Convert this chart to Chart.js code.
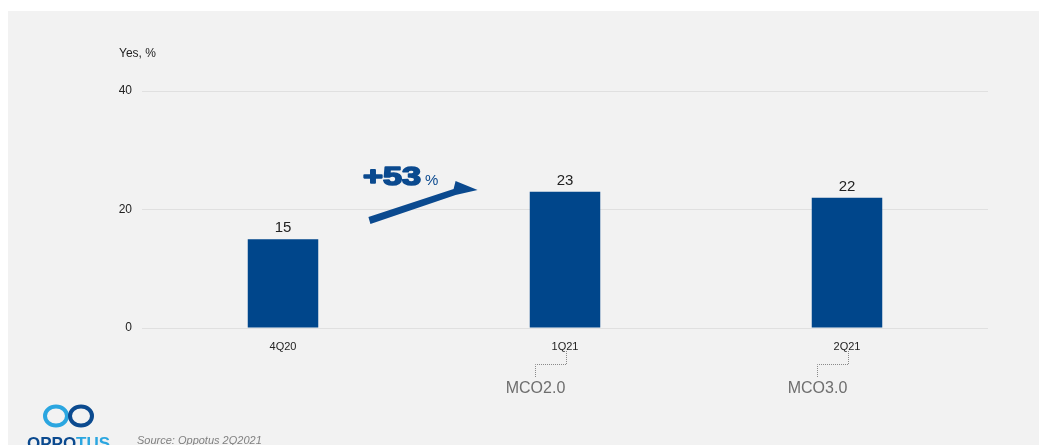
<!DOCTYPE html>
<html>
<head>
<meta charset="utf-8">
<script src="https://cdn.jsdelivr.net/npm/chart.js@4"></script>
<style>
  body { margin: 0; background: #fff; }
  #wrap { width: 1039px; height: 445px; }
</style>
</head>
<body>
<div id="wrap"><canvas id="barChart" width="1039" height="445"></canvas></div>
<script>
// data
var quarters = ['4Q20', '1Q21', '2Q21'];
var yesShare = [15, 23, 22];
var yTicks = [0, 20, 40];
var mcoNotes = ['', 'MCO2.0', 'MCO3.0'];
var growthLabel = '+53';

var blue = '#00468b';
var font = 'Arial, "Liberation Sans", sans-serif';

// background panel, labels, arrow, MCO callouts, logo
var decor = {
    id: 'decor',
    beforeDraw: function (chart) {
        var c = chart.ctx;
        c.save();
        c.fillStyle = '#ffffff';
        c.fillRect(0, 0, chart.width, chart.height);
        c.fillStyle = '#f2f2f2';
        c.fillRect(8, 11, chart.width - 8, chart.height - 11);
        c.restore();
    },
    afterDraw: function (chart) {
        var c = chart.ctx;
        var xs = chart.scales.x, ys = chart.scales.y;
        var bars = chart.getDatasetMeta(0).data;
        c.save();

        // axis title
        c.fillStyle = '#222';
        c.font = '12px ' + font;
        c.textAlign = 'left';
        c.textBaseline = 'middle';
        c.fillText('Yes, %', 119, 54);

        // value labels
        c.font = '15px ' + font;
        c.textAlign = 'center';
        c.textBaseline = 'middle';
        bars.forEach(function (b, i) {
            c.fillText(yesShare[i], b.x, b.y - 11);
        });

        // growth arrow between 4Q20 and 1Q21
        var x0 = xs.getPixelForValue(0.31), y0 = ys.getPixelForValue(17.9);
        var x1 = xs.getPixelForValue(0.69), y1 = ys.getPixelForValue(23.3);
        c.fillStyle = '#0b4a8f';
        c.beginPath();
        c.moveTo(x0 - 2, y0 - 5);
        c.lineTo(x1 - 24, y1 - 1);
        c.lineTo(x1 - 22, y1 - 9);
        c.lineTo(x1, y1);
        c.lineTo(x1 - 22, y1 + 5);
        c.lineTo(x0, y0 + 2);
        c.closePath();
        c.fill();

        c.textAlign = 'left';
        c.textBaseline = 'alphabetic';
        c.font = 'bold 25px ' + font;
        var tx = xs.getPixelForValue(0.28), ty = ys.getPixelForValue(24.1);
        var w = c.measureText(growthLabel).width;
        c.save();
        c.translate(tx + 1, ty);
        c.scale(58 / w, 1);
        c.strokeStyle = '#0b4a8f';
        c.lineWidth = 1.6;
        c.lineJoin = 'round';
        c.strokeText(growthLabel, 0, 0);
        c.fillText(growthLabel, 0, 0);
        c.restore();
        c.font = '15px ' + font;
        c.fillText('%', tx + 63, ty);

        // MCO callouts under ticks
        c.strokeStyle = '#8a8a8a';
        c.lineWidth = 1;
        c.setLineDash([1, 1]);
        mcoNotes.forEach(function (note, i) {
            if (!note) return;
            var cx = xs.getPixelForValue(i);
            var vx = Math.round(cx) + 1.5;
            var hx = vx - 31;
            c.beginPath();
            c.moveTo(vx, 351);
            c.lineTo(vx, 364.5);
            c.lineTo(hx, 364.5);
            c.lineTo(hx, 378);
            c.stroke();
            c.fillStyle = '#6e6e6e';
            c.font = '16px ' + font;
            c.textAlign = 'center';
            c.textBaseline = 'middle';
            c.fillText(note, hx, 389);
        });
        c.setLineDash([]);

        // logo
        c.lineWidth = 4;
        c.strokeStyle = '#2ba6e0';
        c.beginPath();
        c.ellipse(56, 416, 11, 9.5, 0, 0, Math.PI * 2);
        c.stroke();
        c.strokeStyle = '#0b4a8f';
        c.beginPath();
        c.ellipse(81, 416, 11, 9.5, 0, 0, Math.PI * 2);
        c.stroke();
        c.font = 'bold 17px ' + font;
        c.textAlign = 'left';
        c.textBaseline = 'alphabetic';
        c.fillStyle = '#0b4a8f';
        c.fillText('OPPO', 27, 449);
        var ow = c.measureText('OPPO').width;
        c.fillStyle = '#2ba6e0';
        c.fillText('TUS', 27 + ow, 449);

        c.fillStyle = '#808080';
        c.font = 'italic 11px ' + font;
        c.fillText('Source: Oppotus 2Q2021', 137, 444);
        c.restore();
    }
};

var ctx = document.getElementById('barChart').getContext('2d');
var barChart = new Chart(ctx, {
    type: 'bar',
    data: {
        labels: quarters,
        datasets: [{
            label: 'Yes, %',
            data: yesShare,
            backgroundColor: blue,
            borderWidth: 0,
            barPercentage: 0.5,
            categoryPercentage: 0.5
        }]
    },
    options: {
        responsive: false,
        animation: false,
        devicePixelRatio: 1,
        layout: { padding: { left: 112, right: 51, top: 91, bottom: 87 } },
        plugins: { legend: { display: false }, tooltip: { enabled: false } },
        scales: {
            x: {
                grid: { display: false },
                border: { display: false },
                ticks: { color: '#222', font: { size: 11, family: font }, padding: 4 },
                afterFit: function (s) { s.height = 30; }
            },
            y: {
                min: 0,
                max: 40,
                afterBuildTicks: function (s) {
                    s.ticks = yTicks.map(function (v) { return { value: v }; });
                },
                grid: { color: '#e0e0e0', drawTicks: false, lineWidth: 1 },
                border: { display: false },
                ticks: { color: '#222', font: { size: 12, family: font }, padding: 10 },
                afterFit: function (s) { s.width = 30; }
            }
        }
    },
    plugins: [decor]
});
</script>
</body>
</html>
